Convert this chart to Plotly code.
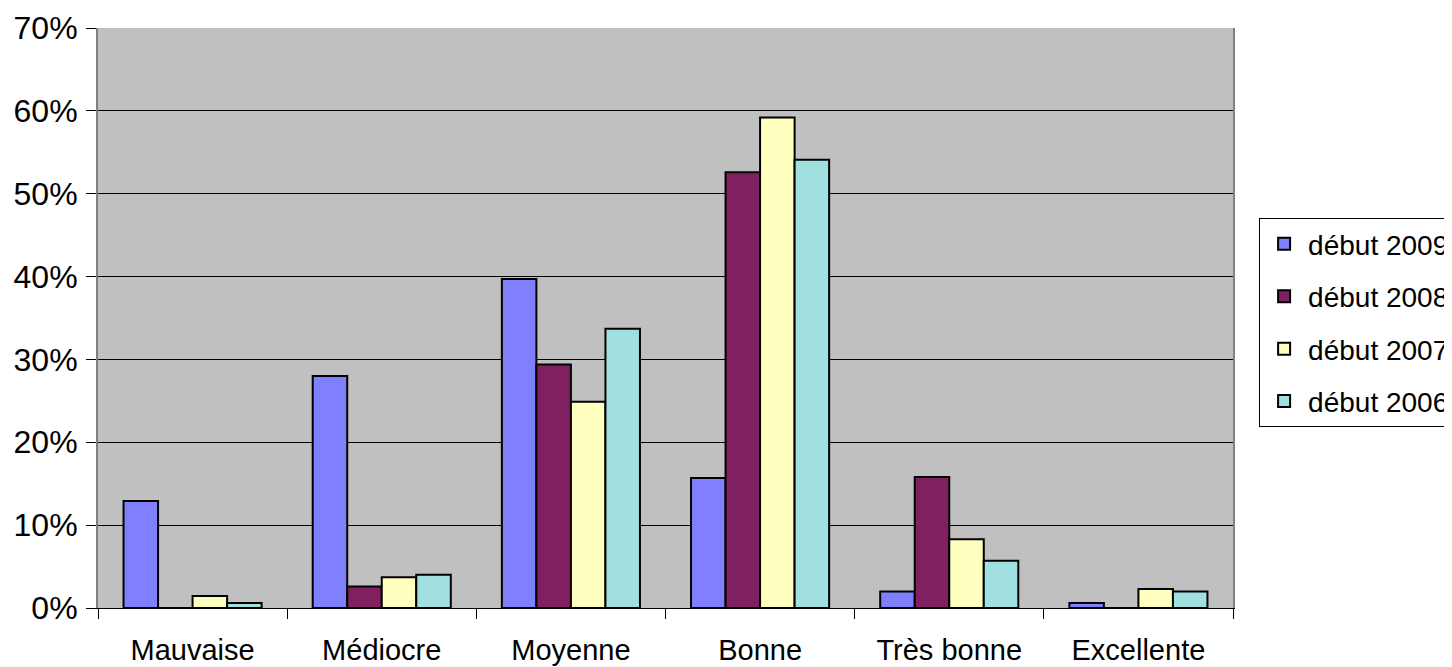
import plotly.graph_objects as go

categories = ["Mauvaise", "Médiocre", "Moyenne", "Bonne", "Très bonne", "Excellente"]
series_names = ["début 2009", "début 2008", "début 2007", "début 2006"]
v2009 = [0.129, 0.280, 0.397, 0.157, 0.020, 0.006]
v2008 = [0.0, 0.026, 0.294, 0.526, 0.158, 0.0]
v2007 = [0.0145, 0.037, 0.249, 0.592, 0.083, 0.023]
v2006 = [0.006, 0.040, 0.337, 0.541, 0.057, 0.020]
colors = ["#8080FF", "#802060", "#FFFFC0", "#A0E0E0"]

font = "Liberation Sans, Arial, sans-serif"
fig = go.Figure()
for name, vals, col in zip(series_names, [v2009, v2008, v2007, v2006], colors):
    fig.add_trace(go.Bar(x=categories, y=vals, name=name, legendgroup=name,
                         marker=dict(color=col, line=dict(color="black", width=2))))

# page body has an 8px margin, so the plot box is shifted by that
fig.update_layout(
    width=1452, height=667,
    margin=dict(l=90, r=227, t=20, b=67, autoexpand=False),
    paper_bgcolor="white", plot_bgcolor="#C0C0C0",
    barmode="group", bargap=0.27, bargroupgap=0,
    font=dict(family=font, size=27, color="black"),
    showlegend=True,
    legend=dict(x=1.023, y=0.492, xanchor="left", yanchor="middle",
                bordercolor="black", borderwidth=1, bgcolor="white",
                font=dict(size=28), tracegroupgap=13, itemwidth=38),
)
fig.update_yaxes(range=[0, 0.7], dtick=0.1, tickformat=".0%",
                 showgrid=True, gridcolor="black", gridwidth=1,
                 showline=True, linecolor="#808080", linewidth=2, mirror=True,
                 ticks="outside", ticklen=10, tickcolor="black",
                 ticklabelstandoff=2, automargin=False,
                 zeroline=False, tickfont=dict(size=32))
fig.update_xaxes(showline=True, linecolor="black", linewidth=1,
                 ticks="outside", ticklen=10, tickcolor="black",
                 tickson="boundaries", ticklabelstandoff=16, automargin=False,
                 tickfont=dict(size=29))

fig.write_html("out.html")
